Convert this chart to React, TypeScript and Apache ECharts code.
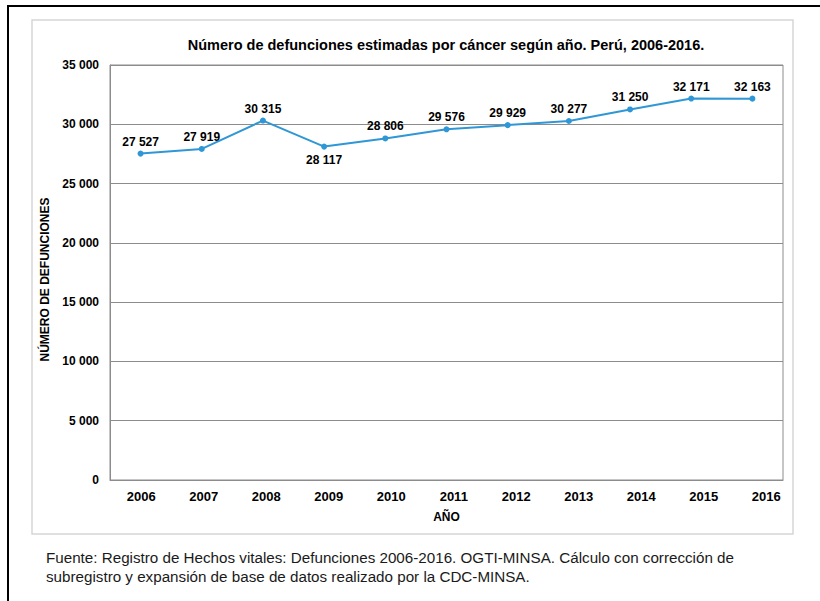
import React, { useEffect, useRef } from "react";
import * as echarts from "echarts";

const years = ["2006", "2007", "2008", "2009", "2010", "2011", "2012", "2013", "2014", "2015", "2016"];
const deaths = [27527, 27919, 30315, 28117, 28806, 29576, 29929, 30277, 31250, 32171, 32163];
const belowLabelYears = ["2009"];
const yMax = 35000;
const yInterval = 5000;
const titleText = "Número de defunciones estimadas por cáncer según año. Perú, 2006-2016.";
const yAxisName = "NÚMERO DE DEFUNCIONES";
const xAxisName = "AÑO";
const footerLine1 = "Fuente: Registro de Hechos vitales: Defunciones 2006-2016. OGTI-MINSA. Cálculo con corrección de";
const footerLine2 = "subregistro y expansión de base de datos realizado por la CDC-MINSA.";

const fmt = (v: number) => String(v).replace(/\B(?=(\d{3})+(?!\d))/g, " ");

const FONT = "'Liberation Sans', Arial, sans-serif";
const GRAY = "#8c8c8c";
const BLUE = "#2f97d5";

export default function App() {
  const ref = useRef<HTMLDivElement>(null);
  useEffect(() => {
    if (!ref.current) return;
    const chart = echarts.init(ref.current, undefined, { renderer: "svg" });
    const seriesData = deaths.map((v, i) => ({
      value: v,
      label: belowLabelYears.includes(years[i]) ? { position: "bottom", distance: 4 } : undefined,
    }));
    chart.setOption({
      animation: false,
      backgroundColor: "#ffffff",
      textStyle: { fontFamily: FONT },
      grid: [
        { left: 110, right: 37, top: 65, bottom: 121, show: true, borderColor: GRAY, borderWidth: 1 },
        { left: 110, right: 22.5, top: 65, bottom: 121, show: false },
      ],
      xAxis: [
        {
          type: "category",
          gridIndex: 0,
          data: years,
          boundaryGap: true,
          axisLine: { show: true, lineStyle: { color: GRAY, width: 1 } },
          axisTick: { show: false },
          axisLabel: { show: false },
          name: xAxisName,
          nameLocation: "middle",
          nameGap: 31,
          nameTextStyle: { fontFamily: FONT, fontWeight: "bold", fontSize: 12, color: "#000" },
        },
        {
          type: "category",
          gridIndex: 1,
          data: years,
          boundaryGap: true,
          axisLine: { show: false },
          axisTick: { show: false },
          axisLabel: { show: true, margin: 10, fontFamily: FONT, fontWeight: "bold", fontSize: 13, color: "#000" },
        },
      ],
      yAxis: [
        {
          type: "value",
          gridIndex: 0,
          min: 0,
          max: yMax,
          interval: yInterval,
          axisLine: { show: true, lineStyle: { color: GRAY, width: 1 } },
          axisTick: { show: false },
          splitLine: { show: true, lineStyle: { color: GRAY, width: 1 } },
          axisLabel: { margin: 11, fontFamily: FONT, fontWeight: "bold", fontSize: 12, color: "#000", formatter: (v: number) => fmt(v) },
          name: yAxisName,
          nameLocation: "middle",
          nameGap: 58,
          nameRotate: 90,
          nameTextStyle: { fontFamily: FONT, fontWeight: "bold", fontSize: 12, color: "#000", padding: [0, 14, 0, 0] },
        },
        {
          type: "value",
          gridIndex: 1,
          min: 0,
          max: yMax,
          show: false,
        },
      ],
      series: [
        {
          type: "line",
          xAxisIndex: 0,
          yAxisIndex: 0,
          data: seriesData,
          symbol: "circle",
          symbolSize: 6,
          lineStyle: { color: BLUE, width: 2 },
          itemStyle: { color: BLUE },
          label: {
            show: true,
            position: "top",
            distance: 3,
            fontFamily: FONT,
            fontWeight: "bold",
            fontSize: 12,
            color: "#000",
            formatter: (p: any) => fmt(p.value),
          },
        },
      ],
      graphic: [
        {
          type: "rect",
          shape: { x: 8, y: 6, width: 900, height: 700 },
          style: { fill: "none", stroke: "#000", lineWidth: 2 },
          silent: true,
        },
        {
          type: "rect",
          shape: { x: 32, y: 20, width: 761, height: 514 },
          style: { fill: "none", stroke: "#d6d6d6", lineWidth: 1.5 },
          silent: true,
        },
        {
          type: "text",
          x: 446,
          y: 45,
          style: {
            text: titleText,
            fontFamily: FONT,
            fontWeight: "bold",
            fontSize: 14.5,
            fill: "#000",
            align: "center",
            verticalAlign: "middle",
          },
        },
        {
          type: "text",
          x: 46,
          y: 557,
          style: { text: footerLine1, fontFamily: FONT, fontSize: 15.2, fill: "#1a1a1a", align: "left", verticalAlign: "middle" },
        },
        {
          type: "text",
          x: 46,
          y: 576,
          style: { text: footerLine2, fontFamily: FONT, fontSize: 15.2, fill: "#1a1a1a", align: "left", verticalAlign: "middle" },
        },
      ],
    });
    return () => chart.dispose();
  }, []);
  return <div ref={ref} style={{ position: "absolute", left: 0, top: 0, width: 820, height: 601 }} />;
}
